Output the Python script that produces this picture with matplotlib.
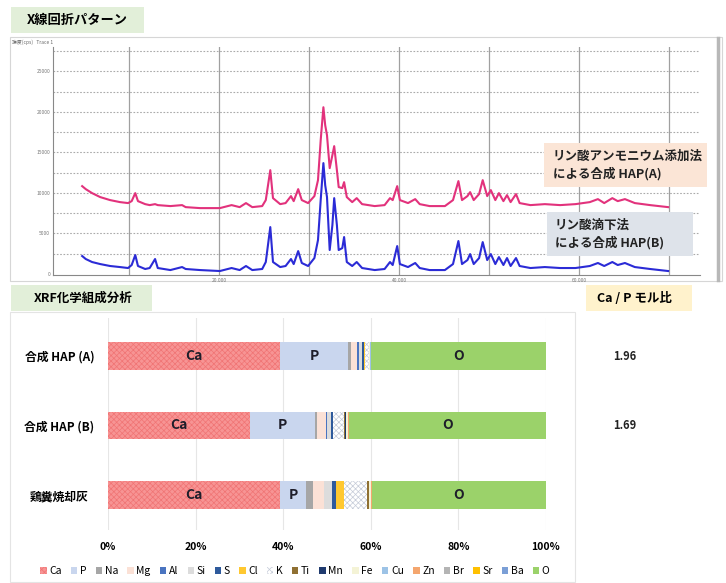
import matplotlib.pyplot as plt
from matplotlib.patches import Rectangle, Patch

plt.rcParams['font.family'] = ['Noto Sans CJK JP', 'DejaVu Sans']
plt.rcParams['hatch.linewidth'] = 0.5

W, H = 726, 583

# XRD pattern (2theta in deg, intensity in counts)
two_theta = [4.8, 5.2, 5.9, 6.8, 7.9, 9.0, 9.9, 10.3, 10.7, 11.0, 11.8, 12.3, 12.9, 13.2,
             14.6, 15.9, 16.3, 17.9, 20.1, 21.4, 22.3, 23.0, 23.7, 24.8, 25.2, 25.7, 26.0,
             26.8, 27.4, 28.0, 28.3, 28.8, 29.2, 29.9, 30.6, 31.0, 31.3, 31.6, 31.8, 32.0,
             32.3, 32.6, 32.8, 33.1, 33.3, 33.7, 33.9, 34.2, 34.8, 35.3, 35.9, 37.3, 38.4,
             39.0, 39.3, 39.8, 40.1, 41.0, 41.8, 42.3, 43.4, 45.1, 46.0, 46.6, 47.0, 47.6,
             47.9, 48.3, 48.9, 49.3, 49.8, 50.2, 50.7, 51.1, 51.6, 52.0, 52.4, 53.0, 53.4,
             54.6, 56.2, 57.9, 59.6, 61.2, 62.1, 62.8, 63.7, 64.3, 65.1, 66.2, 67.9, 69.9]
hap_a_xrd = [10840, 10470, 9980, 9490, 9120, 8870, 8750, 8990, 9980, 8990, 8620, 8500, 8620, 8500,
             8380, 8500, 8250, 8130, 8130, 8500, 8250, 8750, 8250, 8380, 9120, 12810, 9360,
             8620, 8750, 9610, 8990, 10470, 9120, 8750, 9610, 11580, 16510, 20570, 18360, 17120,
             13060, 14660, 15770, 12810, 10720, 10600, 11330, 9490, 8870, 9360, 8620, 8380, 8500,
             9360, 9120, 10840, 9120, 8750, 9240, 8620, 8380, 8380, 9120, 11460, 9120, 9610,
             10100, 9120, 9860, 11580, 9610, 10350, 9120, 9980, 8990, 9730, 8870, 9860, 8750,
             8500, 8620, 8500, 8620, 8870, 9240, 8750, 9360, 8990, 9240, 8750, 8500, 8250]
hap_b_xrd = [2220, 1850, 1480, 1230, 990, 860, 740, 1110, 2340, 990, 620, 740, 1850, 740,
             490, 860, 620, 490, 370, 740, 490, 990, 490, 620, 1480, 5790, 1480,
             860, 990, 1850, 1230, 2830, 1360, 990, 1970, 4190, 9120, 13680, 10960, 9490,
             2960, 6040, 9360, 6040, 2960, 3200, 4560, 1480, 990, 1480, 740, 490, 620,
             1480, 1110, 3450, 1230, 860, 1360, 740, 490, 490, 1230, 4070, 1230, 1720,
             2460, 1230, 1970, 3940, 1720, 2460, 1230, 2090, 1110, 1970, 990, 1970, 990,
             740, 860, 740, 740, 990, 1360, 990, 1480, 1110, 1360, 860, 620, 370]

# XRF composition (wt%)
samples = ['合成 HAP (A)', '合成 HAP (B)', '鶏糞焼却灰']
elements = ['Ca', 'P', 'Na', 'Mg', 'Al', 'Si', 'S', 'Cl', 'K', 'Ti', 'Mn', 'Fe',
            'Cu', 'Zn', 'Br', 'Sr', 'Ba', 'O']
hap_a_comp = [39.3, 15.6, 0.5, 1.5, 0.4, 0.8, 0.4, 0.1, 0.9, 0.0, 0.1, 0.2,
              0.2, 0.0, 0.0, 0.0, 0.0, 40.0]
hap_b_comp = [32.4, 14.9, 0.5, 2.0, 0.1, 1.0, 0.4, 0.1, 2.5, 0.1, 0.3, 0.5,
              0.1, 0.05, 0.05, 0.0, 0.0, 45.0]
ash_comp = [39.3, 6.0, 1.4, 2.6, 0.1, 1.7, 0.9, 1.9, 5.3, 0.4, 0.1, 0.4,
            0.05, 0.05, 0.0, 0.0, 0.0, 39.8]
ca_p_ratio = ['1.96', '1.69', '']

colors = ['#f79494', '#c9d6ee', '#a6a6a6', '#fbe1d6', '#4a74c0', '#dcdcdc', '#2e5a9c',
          '#ffc830', '#ffffff', '#8f7032', '#1f3a6e', '#f4f3d6', '#9dc3e6', '#f4a66e',
          '#b4b4b4', '#ffc000', '#7b9fd6', '#9bd26a']
hatches = {'Ca': ('xxxxxx', '#f07474'), 'K': ('xxxxxx', '#c5cbd8')}


def fx(px):
    return px / W


def fy(py):
    return 1 - py / H


def box(x0, y0, x1, y1, fc, ec='none', lw=1.0, z=0):
    fig.patches.append(Rectangle((fx(x0), fy(y1)), fx(x1) - fx(x0), fy(y0) - fy(y1),
                                 transform=fig.transFigure, facecolor=fc, edgecolor=ec,
                                 linewidth=lw, zorder=z))


fig = plt.figure(figsize=(W / 100, H / 100), dpi=100)

# --- section frames / titles
box(10, 37, 722, 281, 'white', '#d6d6d6', 0.8, z=-2)
box(10, 312, 575, 582, 'white', '#e4e4e4', 0.8, z=-2)
box(11, 7, 144, 33, '#e2efd9', z=-1)
fig.text(fx(77), fy(20), 'X線回折パターン', ha='center', va='center', fontsize=9.5, fontweight='bold')
box(11, 285, 152, 311, '#e2efd9', z=-1)
fig.text(fx(83), fy(298), 'XRF化学組成分析', ha='center', va='center', fontsize=9, fontweight='bold')
box(586, 285, 692, 311, '#fff2cc', z=-1)
fig.text(fx(634), fy(298), 'Ca / P モル比', ha='center', va='center', fontsize=9, fontweight='bold')
fig.text(fx(12), fy(42), '強度(cps)   Trace 1', ha='left', va='center', fontsize=3.5, color='#666666')
fig.add_artist(plt.Line2D([fx(718), fx(718)], [fy(38), fy(280)], transform=fig.transFigure,
                          color='#b8b8b8', linewidth=2.5))

# --- XRD axes
ax1 = fig.add_axes([fx(53), fy(275), fx(700) - fx(53), fy(47) - fy(275)])
ax1.set_zorder(1)
ax1.patch.set_alpha(0)
ax1.plot(two_theta, hap_a_xrd, color='#e2327c', linewidth=1.5)
ax1.plot(two_theta, hap_b_xrd, color='#2b2bd6', linewidth=1.5)
ax1.set_xlim(1.56, 73.44)
ax1.set_ylim(-120, 28000)
ax1.set_xticks([10, 20, 30, 40, 50, 60, 70])
ax1.set_xticklabels(['', '20.000', '', '40.000', '', '60.000', ''])
ax1.set_yticks([0, 5000, 10000, 15000, 20000, 25000])
ax1.tick_params(labelsize=3.5, colors='#777777', length=0, pad=2)
for yv in range(2500, 28000, 2500):
    ax1.axhline(yv, color='#aaaaaa', linewidth=0.8, linestyle=(0, (1.5, 1.5)), zorder=0)
for xv in [10, 20, 30, 40, 50, 60, 70]:
    ax1.axvline(xv, color='#a0a0a0', linewidth=0.9, zorder=0)
for s in ['top', 'right']:
    ax1.spines[s].set_visible(False)
for s in ['left', 'bottom']:
    ax1.spines[s].set_color('#888888')
    ax1.spines[s].set_linewidth(0.8)

box(544, 143, 707, 187, '#fbe5d6', z=5)
fig.text(fx(553), fy(165), 'リン酸アンモニウム添加法\nによる合成 HAP(A)', ha='left', va='center',
         fontsize=9, fontweight='bold', color='#222222', linespacing=1.35, zorder=6)
box(547, 212, 693, 256, '#dee3ea', z=5)
fig.text(fx(555), fy(234), 'リン酸滴下法\nによる合成 HAP(B)', ha='left', va='center',
         fontsize=9, fontweight='bold', color='#222222', linespacing=1.35, zorder=6)

# --- XRF stacked bars
ax2 = fig.add_axes([fx(108), fy(530), fx(546) - fx(108), fy(318) - fy(530)])
ax2.set_zorder(1)
ax2.patch.set_alpha(0)
rows = [hap_a_comp, hap_b_comp, ash_comp]
ypos = list(range(len(samples)))
left = [0.0] * len(samples)
for j, el in enumerate(elements):
    vals = [r[j] for r in rows]
    h, hc = hatches.get(el, (None, 'none'))
    ax2.barh(ypos, vals, left=left, height=0.39, color=colors[j], hatch=h,
             edgecolor=hc, linewidth=0, zorder=2)
    if el in ('Ca', 'P', 'O'):
        for i in ypos:
            ax2.text(left[i] + vals[i] / 2, i, el, ha='center', va='center', fontsize=10,
                     fontweight='bold', color='#1e1e2a', zorder=4)
    left = [left[i] + vals[i] for i in ypos]

ax2.set_xlim(0, 100)
ax2.set_ylim(2.504, -0.547)
ax2.set_xticks([0, 20, 40, 60, 80, 100])
ax2.set_xticklabels(['0%', '20%', '40%', '60%', '80%', '100%'])
ax2.set_yticks(ypos)
ax2.set_yticklabels(samples)
for lab in ax2.get_yticklabels():
    lab.set_horizontalalignment('center')
ax2.tick_params(axis='y', length=0, pad=35, labelsize=8.5)
ax2.tick_params(axis='x', length=0, pad=9, labelsize=7.5)
for lab in ax2.get_xticklabels() + ax2.get_yticklabels():
    lab.set_fontweight('bold')
ax2.grid(axis='x', color='#e6e6e6', linewidth=0.8, zorder=0)
for s in ax2.spines.values():
    s.set_visible(False)

for i in ypos:
    ax2.text(118, i, ca_p_ratio[i], ha='center', va='center', fontsize=8,
             fontweight='bold', color='#222222', clip_on=False)

handles = []
for j, el in enumerate(elements):
    h, hc = hatches.get(el, (None, 'none'))
    handles.append(Patch(facecolor=colors[j], hatch=h, edgecolor=hc, linewidth=0, label=el))
fig.legend(handles=handles, loc='center', bbox_to_anchor=(fx(295), fy(571)), ncol=len(elements),
           frameon=False, fontsize=7.5, handlelength=0.6, handleheight=0.7, handletextpad=0.25,
           columnspacing=0.9, borderpad=0)

fig.savefig('out.png', dpi=100)
